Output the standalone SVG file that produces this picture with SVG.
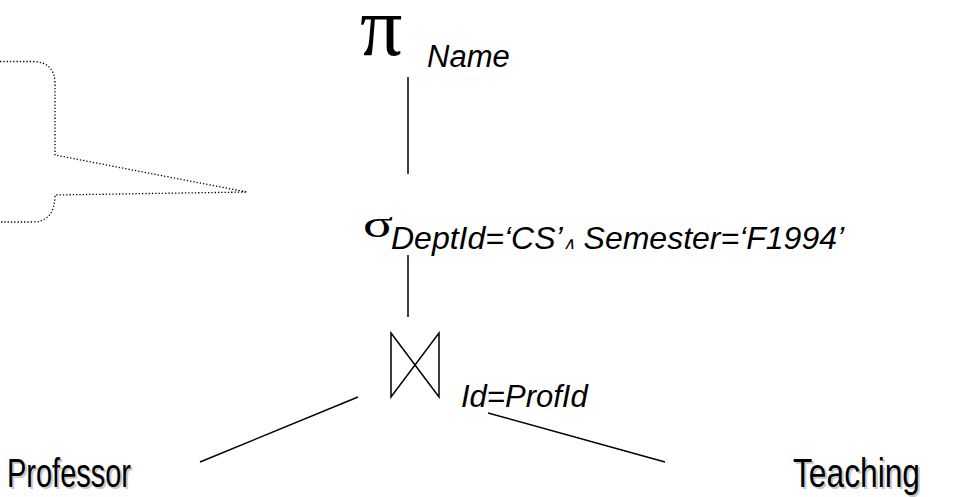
<svg xmlns="http://www.w3.org/2000/svg" width="953" height="497" viewBox="0 0 953 497">
<style>
.ln{stroke:#000;stroke-width:1.5;fill:none}
.it{font-family:"Liberation Sans",Arial,sans-serif;font-style:italic;fill:#000}
.gr{font-family:"Liberation Serif","Times New Roman",serif;fill:#000}
.big{font-family:"Liberation Sans",Arial,sans-serif;font-size:41px;fill:#000}
.sh{fill:#c8c8c8}
.dot{stroke:#000;stroke-width:1.3;fill:none;stroke-dasharray:1.3 2}
</style>
<g id="callout">
<path class="dot" d="M0,61.5 L32,61.5 Q55,61.5 55,84 L55,155 L247,192 L55,195 Q55,222 32,222 L0,222"/>
</g>
<g id="project">
<text class="gr" x="360" y="55" font-size="84">π</text>
<text class="it" x="427" y="67" font-size="31">Name</text>
</g>
<g id="select">
<text class="gr" x="363" y="237" font-size="38" textLength="30" lengthAdjust="spacingAndGlyphs">σ</text>
<text class="it" x="391" y="249" font-size="32">DeptId=‘CS’<tspan font-size="17">∧</tspan> Semester=‘F1994’</text>
</g>
<g id="join">
<path class="ln" d="M391,333 L439,397 L439,333 L391,397 Z"/>
<text class="it" x="461" y="407" font-size="31">Id=ProfId</text>
</g>
<g id="professor">
<text class="big sh" x="9" y="489" textLength="124" lengthAdjust="spacingAndGlyphs">Professor</text>
<text class="big" x="7" y="487" textLength="124" lengthAdjust="spacingAndGlyphs">Professor</text>
</g>
<g id="teaching">
<text class="big sh" x="795" y="489" textLength="127" lengthAdjust="spacingAndGlyphs">Teaching</text>
<text class="big" x="793" y="487" textLength="127" lengthAdjust="spacingAndGlyphs">Teaching</text>
</g>
<g id="connectors">
<line class="ln" x1="408" y1="77" x2="408" y2="174"/>
<line class="ln" x1="408" y1="255" x2="408" y2="317"/>
<line class="ln" x1="358" y1="397" x2="200" y2="462"/>
<line class="ln" x1="488" y1="413" x2="665" y2="462"/>
</g>
</svg>
